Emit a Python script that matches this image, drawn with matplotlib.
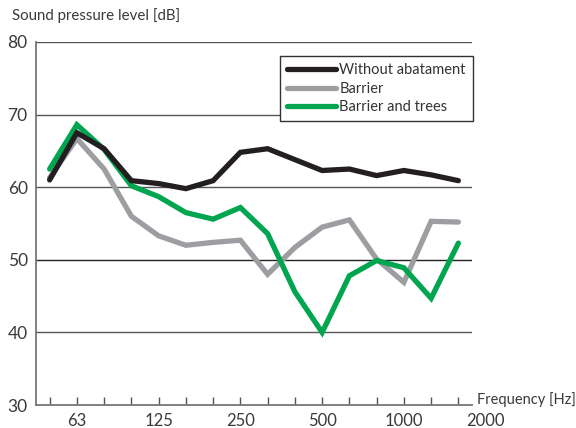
import matplotlib
matplotlib.use("Agg")
import matplotlib.pyplot as plt
import matplotlib.transforms as mtransforms

plt.rcParams['font.family'] = ['Lato', 'DejaVu Sans']

bands = ["50", "63", "80", "100", "125", "160", "200", "250", "315", "400",
         "500", "630", "800", "1000", "1250", "1600"]
labelled = ["63", "125", "250", "500", "1000", "2000"]
all_bands = bands + ["2000"]

without_abatement = [61.0, 67.5, 65.3, 60.9, 60.5, 59.8, 60.9, 64.8, 65.3, 63.8,
                     62.3, 62.5, 61.6, 62.3, 61.7, 60.9]
barrier = [61.3, 66.7, 62.5, 56.0, 53.3, 52.0, 52.4, 52.7, 48.0, 51.7,
           54.5, 55.5, 50.1, 46.9, 55.3, 55.2]
barrier_trees = [62.5, 68.6, 65.2, 60.2, 58.7, 56.5, 55.6, 57.2, 53.6, 45.6,
                 40.0, 47.8, 49.9, 48.9, 44.7, 52.3]

series_names = ["Without abatament", "Barrier", "Barrier and trees"]
colors = ["#231f20", "#9d9ea2", "#00a54f"]

W, H = 576, 428
fig = plt.figure(figsize=(W / 100, H / 100), dpi=100)
ax = fig.add_axes([36 / W, (H - 405) / H, (472 - 36) / W, (405 - 42) / H])

x = list(range(len(bands)))
ax.set_xlim(-0.5, len(bands) - 0.5)
ax.set_ylim(30, 80)

# gridlines
for yv in [40, 50, 60, 70, 80]:
    ax.axhline(yv, color="#555555" if yv != 50 else "#222222", lw=1.0, zorder=1)

lines = {}
order = [1, 2, 0]
for i in order:
    data = [without_abatement, barrier, barrier_trees][i]
    ln, = ax.plot(x, data, color=colors[i], lw=3.8, solid_capstyle='round',
                  solid_joinstyle='miter', zorder=3 + order.index(i),
                  label=series_names[i])
    lines[i] = ln

# spines
for s in ["top", "right"]:
    ax.spines[s].set_visible(False)
for s in ["left", "bottom"]:
    ax.spines[s].set_color("#777777")
    ax.spines[s].set_linewidth(1.3)

ax.set_yticks([30, 40, 50, 60, 70, 80])
ax.tick_params(axis='y', length=0, pad=6, labelsize=12.5, labelcolor="#3a3a3a")
ax.set_xticks(x)
ax.set_xticklabels([])
ax.tick_params(axis='x', direction='in', length=6, width=1, color="#555555")

trans = mtransforms.blended_transform_factory(ax.transData, ax.transAxes)
for lab in labelled:
    idx = all_bands.index(lab)
    ax.text(idx, -(421 - 405) / (405 - 42), lab, transform=trans, ha='center',
            va='center', fontsize=12, color="#3a3a3a", clip_on=False)

fig.text(12 / W, 1 - 16 / H, "Sound pressure level [dB]", fontsize=10.8,
         color="#3a3a3a", ha='left', va='center')
fig.text(477 / W, 1 - 400 / H, "Frequency [Hz]", fontsize=10.5,
         color="#3a3a3a", ha='left', va='center')

handles = [lines[0], lines[1], lines[2]]
leg = fig.legend(handles, series_names, loc='upper right',
                 bbox_to_anchor=(473 / W, 1 - 56 / H), bbox_transform=fig.transFigure,
                 frameon=True, fancybox=False, framealpha=1,
                 edgecolor="#333333", handlelength=3.4, handletextpad=0.2,
                 labelspacing=0.3, borderpad=0.5, borderaxespad=0,
                 prop={'size': 10.5})
leg.get_frame().set_linewidth(1.0)
for t in leg.get_texts():
    t.set_color("#333333")
leg.set_zorder(10)

fig.savefig("out.png", dpi=100)
